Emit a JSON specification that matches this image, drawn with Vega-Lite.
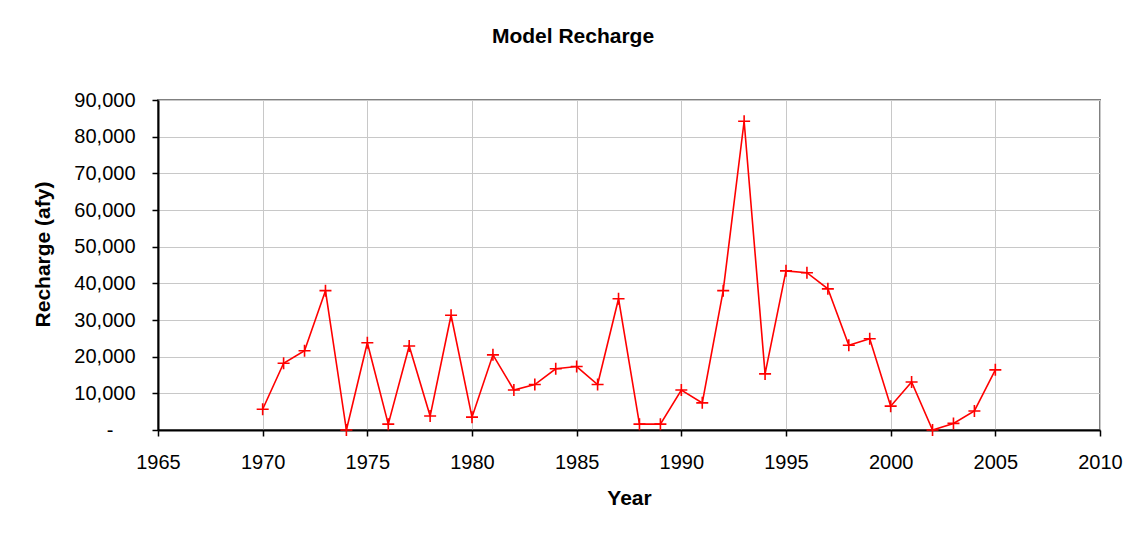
{
  "$schema": "https://vega.github.io/schema/vega-lite/v6.json",
  "width": 942,
  "height": 330,
  "autosize": {"type": "none"},
  "padding": {"left": 158, "top": 100, "right": 33, "bottom": 104},
  "background": "white",
  "title": {
    "text": "Model Recharge",
    "font": "Liberation Sans",
    "fontSize": 21,
    "fontWeight": "bold",
    "color": "black",
    "anchor": "middle",
    "dx": -56,
    "offset": 26,
    "baseline": "alphabetic"
  },
  "config": {
    "view": {"stroke": "#808080", "strokeWidth": 2},
    "font": "Liberation Sans"
  },
  "data": {
    "values": [
      {"Year": 1970, "Recharge": 5650},
      {"Year": 1971, "Recharge": 18200},
      {"Year": 1972, "Recharge": 21600},
      {"Year": 1973, "Recharge": 38000},
      {"Year": 1974, "Recharge": 0},
      {"Year": 1975, "Recharge": 23800},
      {"Year": 1976, "Recharge": 1600},
      {"Year": 1977, "Recharge": 22900},
      {"Year": 1978, "Recharge": 3800},
      {"Year": 1979, "Recharge": 31300},
      {"Year": 1980, "Recharge": 3500},
      {"Year": 1981, "Recharge": 20500},
      {"Year": 1982, "Recharge": 10900},
      {"Year": 1983, "Recharge": 12400},
      {"Year": 1984, "Recharge": 16700},
      {"Year": 1985, "Recharge": 17300},
      {"Year": 1986, "Recharge": 12400},
      {"Year": 1987, "Recharge": 35800},
      {"Year": 1988, "Recharge": 1600},
      {"Year": 1989, "Recharge": 1600},
      {"Year": 1990, "Recharge": 10900},
      {"Year": 1991, "Recharge": 7400},
      {"Year": 1992, "Recharge": 38000},
      {"Year": 1993, "Recharge": 84200},
      {"Year": 1994, "Recharge": 15300},
      {"Year": 1995, "Recharge": 43400},
      {"Year": 1996, "Recharge": 42900},
      {"Year": 1997, "Recharge": 38500},
      {"Year": 1998, "Recharge": 23100},
      {"Year": 1999, "Recharge": 24900},
      {"Year": 2000, "Recharge": 6500},
      {"Year": 2001, "Recharge": 13100},
      {"Year": 2002, "Recharge": 0},
      {"Year": 2003, "Recharge": 1800},
      {"Year": 2004, "Recharge": 5200},
      {"Year": 2005, "Recharge": 16400}
    ]
  },
  "encoding": {
    "x": {
      "field": "Year",
      "type": "quantitative",
      "scale": {"domain": [1965, 2010], "nice": false, "zero": false},
      "axis": {
        "values": [1965, 1970, 1975, 1980, 1985, 1990, 1995, 2000, 2005, 2010],
        "format": "d",
        "title": "Year",
        "titleFont": "Liberation Sans",
        "titleFontSize": 21,
        "titleFontWeight": "bold",
        "titleColor": "black",
        "titlePadding": 15,
        "labelFont": "Liberation Sans",
        "labelFontSize": 20,
        "labelColor": "black",
        "labelPadding": 16,
        "labelFlush": false,
        "tickSize": 6,
        "tickColor": "black",
        "tickWidth": 1.5,
        "domainColor": "black",
        "domainWidth": 2,
        "grid": true,
        "gridColor": "#c8c8c8",
        "gridWidth": 1
      }
    },
    "y": {
      "field": "Recharge",
      "type": "quantitative",
      "scale": {"domain": [0, 90000], "nice": false},
      "axis": {
        "values": [0, 10000, 20000, 30000, 40000, 50000, 60000, 70000, 80000, 90000],
        "labelExpr": "datum.value == 0 ? '-' : format(datum.value, ',')",
        "title": "Recharge (afy)",
        "titleFont": "Liberation Sans",
        "titleFontSize": 21,
        "titleFontWeight": "bold",
        "titleColor": "black",
        "titleX": -105,
        "titleY": 154,
        "titleBaseline": "bottom",
        "labelFont": "Liberation Sans",
        "labelFontSize": 20,
        "labelColor": "black",
        "labelPadding": {"condition": {"test": "datum.value == 0", "value": 39}, "value": 17},
        "labelFlush": false,
        "tickSize": 6,
        "tickColor": "black",
        "tickWidth": 1.5,
        "domainColor": "black",
        "domainWidth": 2,
        "grid": true,
        "gridColor": "#c8c8c8",
        "gridWidth": 1
      }
    }
  },
  "layer": [
    {
      "mark": {"type": "line", "color": "#ff0000", "strokeWidth": 1.6}
    },
    {
      "mark": {
        "type": "point",
        "shape": "M-1,0L1,0M0,-1L0,1",
        "size": 144,
        "filled": false,
        "stroke": "#ff0000",
        "strokeWidth": 1.6,
        "opacity": 1
      }
    }
  ]
}
